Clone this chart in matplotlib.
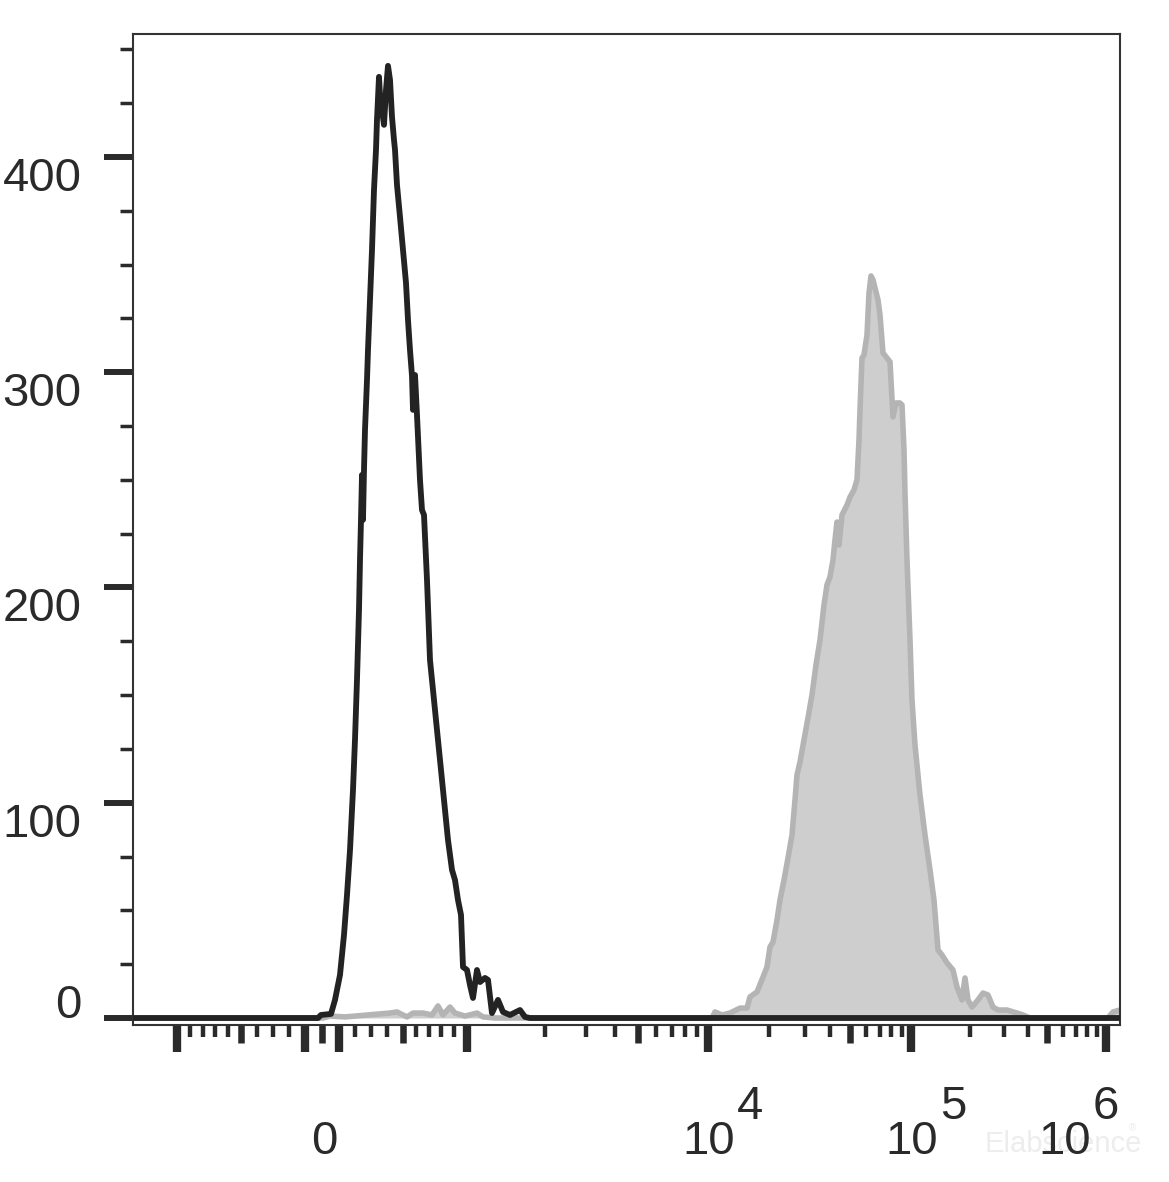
import numpy as np
import matplotlib
matplotlib.use("Agg")
import matplotlib.pyplot as plt
from matplotlib.transforms import offset_copy

plt.rcParams['font.family'] = ['Liberation Sans', 'DejaVu Sans']

# ---------------- data (x in display channels, y in cell counts) ----------------
black_channel = [0, 185, 188, 198, 202, 207, 211, 214, 217, 220, 222, 224, 226, 227, 228, 229,
                 230, 231, 232, 234, 235, 237, 239, 241, 243, 244, 246, 247, 249, 251, 253, 255,
                 257, 259, 261, 262, 264, 267, 270, 273, 275, 277, 279, 280, 282, 284, 287, 289,
                 291, 294, 297, 300, 303, 307, 311, 315, 319, 322, 325, 328, 330, 334, 337, 340,
                 344, 347, 352, 355, 359, 365, 370, 377, 387, 392, 397, 987]
black_count = [0, 0, 1.4, 1.9, 8.4, 20.0, 38.6, 57.1, 78.0, 106.0, 129.3, 157.2, 189.5, 212.8,
               231.4, 252.3, 231.4, 254.6, 273.2, 296.4, 310.3, 333.6, 356.8, 384.7, 403.3, 417.2,
               437.2, 428.8, 421.8, 414.9, 431.1, 442.3, 435.8, 418.6, 407.9, 403.3, 387.0, 372.1,
               356.8, 341.5, 324.3, 310.3, 298.3, 282.5, 298.7, 280.1, 249.9, 236.0, 233.7, 203.5,
               166.3, 152.4, 138.4, 119.9, 101.3, 82.7, 68.8, 64.1, 54.8, 47.9,
               23.7, 22.3, 15.3, 9.3, 22.3, 16.7, 18.6, 17.7, 2.3, 8.4, 2.8, 1.4, 3.7, 0.5, 0, 0]

gray_channel = [0, 190, 197, 212, 257, 264, 274, 280, 290, 299, 305, 310, 317, 322, 332, 344, 350,
                362, 579, 582, 589, 597, 607, 614, 617, 624, 630, 634, 637, 640, 644, 647, 651,
                655, 659, 662, 664, 667, 671, 675, 679, 683, 687, 691, 694, 697, 700, 702, 704,
                706, 709, 714, 717, 721, 724, 726, 727, 729, 731, 734, 736, 738, 740, 743, 745,
                747, 750, 754, 757, 760, 763, 767, 769, 771, 772, 774, 777, 779, 782, 787, 792,
                797, 801, 805, 809, 814, 820, 824, 829, 832, 835, 839, 845, 850, 855, 860, 865,
                874, 884, 890, 897, 975, 980, 987]
gray_count = [0, 0, 0.9, 0.5, 2.3, 2.8, 0.5, 2.3, 2.3, 1.4, 5.6, 1.4, 5.1, 2.3, 0.9, 2.3, 0.5,
              0, 0, 2.8, 1.4, 2.3, 4.6, 4.6, 9.8, 12.1, 19.0, 23.7, 33.0, 35.3, 45.5, 54.8, 64.1,
              74.3, 85.0, 101.3, 112.9, 118.9, 129.2, 139.4, 150.1, 164.0, 175.6, 191.9, 201.2,
              204.9, 212.8, 222.1, 230.4, 219.7, 233.7, 238.3, 242.0, 245.3, 250.0, 268.5, 282.5,
              306.6, 308.0, 317.3, 336.8, 344.7, 342.9, 337.3, 333.6, 326.6, 308.9, 306.6, 304.8,
              279.2, 285.7, 285.7, 284.8, 263.9, 243.9, 212.8, 175.6, 147.7, 126.8, 103.6, 85.0,
              68.8, 54.8, 31.6, 29.3, 25.6, 22.3, 14.4, 8.4, 18.6, 8.4, 5.1, 8.4, 11.6, 10.7, 5.1,
              3.7, 3.7, 2.3, 1.4, 0, 0, 2.8, 3.7]

y_major = [0, 100, 200, 300, 400]
y_minor = [25, 50, 75, 125, 150, 175, 225, 250, 275, 325, 350, 375, 425, 450]

x_long_vals = [-1000, -100, 100, 1000, 1e4, 1e5, 1e6]
x_mid_vals = [-500, 0, 500, 5e3, 5e4, 5e5]
x_minor_vals = ([-900, -800, -700, -600, -400, -300, -200, 200, 300, 400, 600, 700, 800, 900] +
                [m * 10 ** e for e in (3, 4, 5) for m in (2, 3, 4, 6, 7, 8, 9)])
x_label_vals = [0, 1e4, 1e5, 1e6]
x_label_exp = [None, '4', '5', '6']


# biexponential display calibration: fluorescence value -> display channel
def to_channel(v):
    v = np.asarray(v, dtype=float)
    out = np.empty_like(v)
    lin = np.abs(v) <= 1000
    out[lin] = np.sign(v[lin]) * np.interp(np.abs(v[lin]), [0, 100, 500, 1000], [0, 17, 81, 145])
    hi = ~lin
    out[hi] = np.interp(np.log10(v[hi]), [3, np.log10(2000), 4, 5, 6, 7],
                        [145, 223, 386, 589, 784, 979])
    return out + 189


# ---------------- figure ----------------
fig = plt.figure(figsize=(11.69, 11.82), dpi=100)
ax = fig.add_axes([0.11377, 0.13283, 0.84431, 0.83841])

ax.fill_between(gray_channel, gray_count, 0, color='#cecece', lw=0, zorder=1)
ax.plot(gray_channel, gray_count, color='#b4b4b4', lw=4.0, zorder=2)
ax.plot(black_channel, black_count, color='#232323', lw=4.2, zorder=3)

ax.set_xlim(0, 987)
ax.set_ylim(-3.25, 457.1)

tick_color = '#2a2a2a'
for s in ax.spines.values():
    s.set_linewidth(1.5)
    s.set_color('#333333')

# y axis
ax.set_yticks(y_major)
ax.set_yticklabels([str(v) for v in y_major])
ax.set_yticks(y_minor, minor=True)
ax.tick_params(axis='y', which='major', direction='out', length=21, width=4.3, pad=16,
               color=tick_color, labelsize=34, labelcolor=tick_color)
ax.tick_params(axis='y', which='minor', direction='out', length=9.5, width=2.5, color=tick_color)
for lbl, v in zip(ax.get_yticklabels(), y_major):
    lbl.set_va('baseline' if v == 0 else 'top')

# x axis: long, medium and short ticks
ax.set_xticks(to_channel(x_long_vals))
ax.set_xticks(to_channel(x_minor_vals), minor=True)
ax.tick_params(axis='x', which='major', direction='out', length=19.5, width=6.0,
               color=tick_color, labelbottom=False)
ax.tick_params(axis='x', which='minor', direction='out', length=8.6, width=3.2, color=tick_color)
sec = ax.secondary_xaxis('bottom')
sec.set_xticks(to_channel(x_mid_vals))
sec.tick_params(axis='x', which='major', direction='out', length=13, width=4.7,
                color=tick_color, labelbottom=False)
sec.spines['bottom'].set_visible(False)

# x labels: 0, 10^4, 10^5, 10^6 (exponent drawn at full size, raised)
xt = ax.get_xaxis_transform()
for v, e, cx in zip(x_label_vals, x_label_exp, to_channel(x_label_vals)):
    if e is None:
        ax.text(cx, 0, '0', transform=offset_copy(xt, fig=fig, x=2, y=-95, units='dots'),
                ha='center', va='top', fontsize=34, color=tick_color, clip_on=False)
    else:
        dx = -41 if e == '6' else 1
        ax.text(cx, 0, '10', transform=offset_copy(xt, fig=fig, x=dx, y=-95, units='dots'),
                ha='center', va='top', fontsize=34, color=tick_color, clip_on=False)
        ax.text(cx, 0, e, transform=offset_copy(xt, fig=fig, x=dx + 28, y=-60, units='dots'),
                ha='left', va='top', fontsize=34, color=tick_color, clip_on=False)

# faint watermark
fig.text(985 / 1169, 1 - 1152 / 1182, 'Elabscience', color='#ededed', fontsize=21,
         ha='left', va='baseline', zorder=-1)
fig.text(1129 / 1169, 1 - 1131 / 1182, '®', color='#ededed', fontsize=7,
         ha='left', va='baseline', zorder=-1)

fig.savefig('out.png', dpi=100)
